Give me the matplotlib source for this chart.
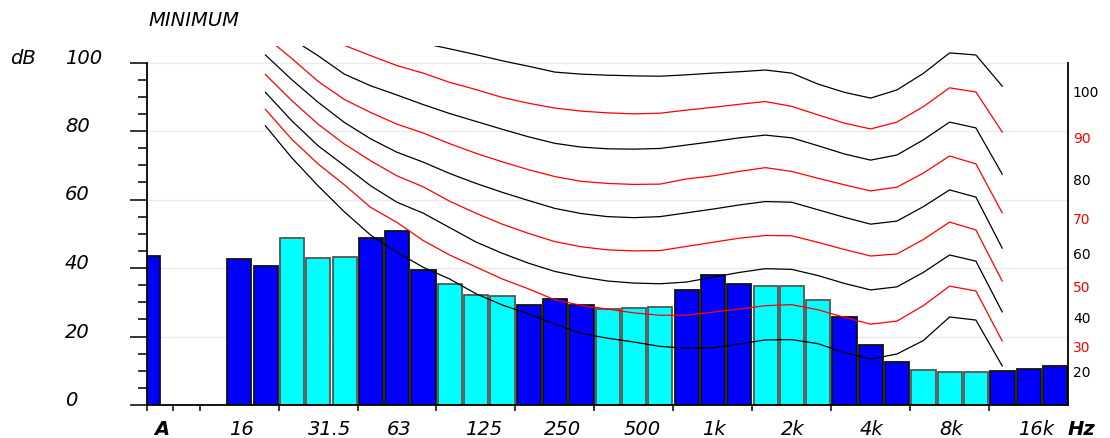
import matplotlib
matplotlib.use('Agg')
import matplotlib.pyplot as plt
from matplotlib import transforms

plt.rcParams['font.family'] = ['DejaVu Sans']

# overall A-weighted level and the 1/3-octave bands 16 Hz .. 20 kHz
a_level = 43.6
band_levels = [42.6, 40.5, 48.8, 42.8, 43.1, 48.8, 50.9, 39.4, 35.3, 32.2, 31.7,
               29.1, 30.9, 29.1, 28.0, 28.3, 28.5, 33.6, 37.9, 35.3, 34.7, 34.7,
               30.7, 25.7, 17.4, 12.5, 10.1, 9.5, 9.5, 9.8, 10.4, 11.5]
band_labels = ['16', '31.5', '63', '125', '250', '500', '1k', '2k', '4k', '8k', '16k']

# equal loudness contours, 20 Hz .. 12.5 kHz
phons = [20, 30, 40, 50, 60, 70, 80, 90, 100]
phon_20 = [81.5, 72.2, 64.0, 56.4, 49.6, 44.6, 40.2, 36.8, 32.5, 29.2, 26.6, 23.6, 20.9, 19.5, 18.4,
           17.1, 16.6, 16.7, 17.8, 19.0, 19.1, 17.9, 15.3, 13.4, 14.9, 18.8, 25.7, 24.8, 11.4]
phon_30 = [86.3, 77.6, 70.4, 64.3, 57.7, 53.3, 48.0, 43.8, 40.3, 36.8, 33.9, 30.7, 29.1, 28.0, 26.9,
           26.2, 26.2, 27.1, 28.0, 29.0, 29.3, 27.8, 25.6, 23.6, 24.5, 29.0, 34.7, 33.3, 18.7]
phon_40 = [91.3, 83.0, 75.7, 69.9, 64.0, 59.2, 56.0, 51.8, 47.6, 44.3, 41.4, 39.0, 37.4, 36.2, 35.6,
           35.4, 35.9, 37.3, 38.7, 39.8, 39.6, 37.8, 35.5, 33.6, 34.5, 38.7, 43.8, 42.0, 27.2]
phon_50 = [96.5, 88.9, 82.0, 76.2, 71.3, 66.9, 63.7, 59.5, 56.0, 52.8, 50.1, 47.7, 46.2, 45.3, 45.0,
           45.1, 46.3, 47.5, 48.7, 49.5, 49.4, 47.5, 45.4, 43.5, 44.1, 48.3, 53.4, 51.1, 36.2]
phon_60 = [102.2, 95.0, 88.4, 82.5, 77.7, 73.8, 70.9, 67.6, 64.7, 62.1, 59.7, 57.4, 55.9, 55.0, 54.7,
           55.0, 56.1, 57.2, 58.4, 59.4, 59.2, 57.0, 54.8, 52.8, 53.7, 57.9, 62.8, 60.7, 45.8]
phon_70 = [107.5, 101.2, 94.5, 89.2, 85.4, 82.0, 79.4, 76.3, 73.5, 71.0, 68.7, 66.7, 65.3, 64.7, 64.4,
           64.5, 66.0, 66.9, 68.2, 69.3, 68.2, 66.2, 64.3, 62.5, 63.6, 67.7, 72.7, 70.4, 56.1]
phon_80 = [112.0, 106.9, 102.0, 96.6, 93.2, 90.5, 87.7, 85.1, 82.8, 80.5, 78.3, 76.4, 75.3, 74.8, 74.7,
           74.9, 75.9, 76.9, 78.0, 78.8, 78.0, 75.7, 73.3, 71.5, 73.0, 77.4, 82.6, 80.9, 67.4]
phon_90 = [118.0, 113.0, 109.0, 105.0, 102.0, 99.1, 96.9, 94.2, 92.1, 89.8, 88.1, 86.7, 85.8, 85.3, 85.0,
           85.2, 86.1, 86.9, 87.8, 88.6, 87.2, 84.7, 82.3, 80.6, 82.6, 87.1, 92.6, 91.4, 79.7]
phon_100 = [125.0, 121.0, 117.0, 114.0, 111.0, 108.0, 105.6, 104.0, 102.3, 100.5, 98.9, 97.2, 96.6, 96.3, 96.1,
            96.0, 96.4, 96.9, 97.3, 97.8, 96.9, 93.7, 91.3, 89.6, 92.0, 96.8, 102.8, 102.2, 93.1]
contours = [phon_20, phon_30, phon_40, phon_50, phon_60, phon_70, phon_80, phon_90, phon_100]

W, H = 1110, 439
fig = plt.figure(figsize=(W / 100, H / 100), dpi=100)
ax = fig.add_axes([147 / W, 33 / H, 921 / W, 359 / H])
ax.set_xlim(0, 35)
ax.set_ylim(0, 359 / 3.425)

# bars: slot 0 = A, slots 1-2 empty, bands from slot 3
ax.bar(0, a_level, width=0.5, align='edge', color='#0000FF', edgecolor='#111111', linewidth=1.3, zorder=2)
slots = [3 + i for i in range(len(band_levels))]
colors = ['#0000FF' if ((i + 1) // 3) % 2 == 0 else '#00FFFF' for i in range(len(band_levels))]
edges = ['#111111' if c == '#0000FF' else '#555555' for c in colors]
ax.bar([s + 0.05 for s in slots], band_levels, width=0.92, align='edge',
       color=colors, edgecolor=edges, linewidth=1.3, zorder=2)

# contours through band centres (20 Hz = band 2)
xc = [i + 2.5 for i in range(2, 2 + len(phon_20))]
lab_tr = transforms.blended_transform_factory(ax.transAxes, ax.transData)
for phon, vals in zip(phons, contours):
    col = '#000000' if phon % 20 == 0 else '#FF0000'
    ax.plot(xc, vals, color=col, lw=0.9, zorder=3)
    ax.annotate(str(phon), xy=(1, vals[-1]), xycoords=lab_tr, xytext=(3.5, -4.5),
                textcoords='offset points', ha='left', va='center', fontsize=10,
                color=col, annotation_clip=False)

# axes styling
ax.spines['top'].set_visible(False)
ax.spines['left'].set_bounds(0, 100)
ax.spines['right'].set_bounds(0, 100)
for s in ['left', 'right', 'bottom']:
    ax.spines[s].set_linewidth(1.3)
ax.set_yticks(range(0, 101, 20))
ax.set_yticks(range(0, 101, 5), minor=True)
ax.tick_params(axis='y', which='major', length=12, width=1.1, labelleft=False)
ax.tick_params(axis='y', which='minor', length=6.5, width=1.1)
ax.set_xticks([0, 1, 2] + list(range(5, 33, 3)))
ax.tick_params(axis='x', length=4.5, width=1.1, labelbottom=False)
ax.yaxis.grid(True, color='#ebebeb', lw=1)
ax.set_axisbelow(True)

# y labels, baseline on the tick
ytr = transforms.blended_transform_factory(fig.transFigure, ax.transData)
for v in range(0, 101, 20):
    ax.text(65 / W, v, str(v), transform=ytr, ha='left', va='baseline',
            fontsize=14, style='italic')
ax.text(10 / W, 100, 'dB', transform=ytr, ha='left', va='baseline', fontsize=14, style='italic')

# x labels, left aligned at the bar
xtr = transforms.blended_transform_factory(ax.transData, fig.transFigure)
ax.text(0.27, 4 / H, 'A', transform=xtr, ha='left', va='baseline', fontsize=14,
        style='italic', fontweight='bold')
for k, lab in enumerate(band_labels):
    ax.text(slots[3 * k] + 0.1, 4 / H, lab, transform=xtr, ha='left', va='baseline',
            fontsize=14, style='italic')
fig.text(1068 / W, 4 / H, 'Hz', ha='left', va='baseline', fontsize=14, style='italic', fontweight='bold')

fig.text(148 / W, 1 - 26 / H, 'MINIMUM', ha='left', va='baseline', fontsize=14, style='italic')

fig.savefig('out.png', dpi=100)
